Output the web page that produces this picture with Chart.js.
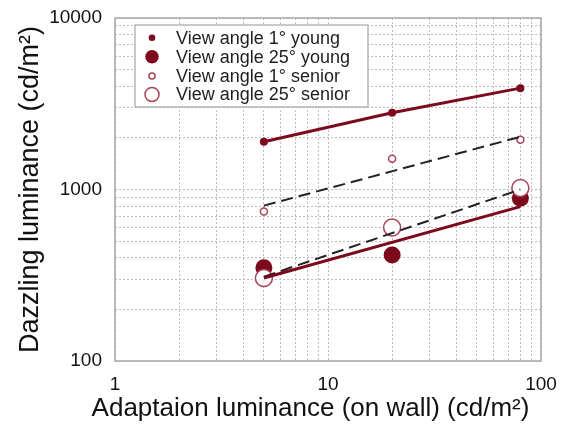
<!DOCTYPE html>
<html>
<head>
<meta charset="utf-8">
<script src="https://cdn.jsdelivr.net/npm/chart.js@4/dist/chart.umd.min.js"></script>
<style>
html,body{margin:0;padding:0;background:#fff;}
#wrap{width:561px;height:425px;}
</style>
</head>
<body>
<div id="wrap"><canvas id="c" width="561" height="425"></canvas></div>
<script>
// ---- data ----
const adaptation = [5, 20, 80];                 // x, cd/m2
const young1 = [1900, 2800, 3900];
const young25 = [350, 415, 890];
const senior1 = [745, 1510, 1950];
const senior25 = [305, 600, 1020];
// fitted lines (end points)
const fitX = [5, 80];
const fitSenior1 = [805, 2030];
const fitYoung25 = [305, 795];
const fitSenior25 = [310, 1000];
const seriesLabels = ['View angle 1° young', 'View angle 25° young', 'View angle 1° senior', 'View angle 25° senior'];
const xTitle = 'Adaptaion luminance (on wall) (cd/m²)';
const yTitle = 'Dazzling luminance (cd/m²)';
const xTickLabels = [1, 10, 100];
const yTickLabels = [100, 1000, 10000];
const xGridValues = [1,2,3,4,5,6,7,8,9,10,20,30,40,50,60,70,80,90,100];
const yGridValues = [100,200,300,400,500,600,700,800,900,1000,2000,3000,4000,5000,6000,7000,8000,9000,10000];

const RED = '#7d0a1c';
const PINK = '#a8405a';
const FONT = '"Liberation Sans", Arial, sans-serif';
const pts = (xs, ys) => xs.map((x, i) => ({x: x, y: ys[i]}));

const legendSizes = [3.3, 6.8, 3, 7];

const legendPlugin = {
  id: 'boxLegend',
  afterDatasetsDraw(chart) {
    const ctx = chart.ctx;
    ctx.save();
    const a = chart.chartArea;
    ctx.strokeStyle = '#a6a6a6';
    ctx.lineWidth = 1.5;
    ctx.strokeRect(a.left, a.top, a.right - a.left, a.bottom - a.top);
    const bx = 135, by = 25, bw = 233, bh = 82;
    ctx.fillStyle = '#fff';
    ctx.fillRect(bx, by, bw, bh);
    ctx.strokeStyle = '#a6a6a6';
    ctx.lineWidth = 1.2;
    ctx.strokeRect(bx, by, bw, bh);
    const rows = [37.7, 56.7, 76, 94.5];
    ctx.font = '18px ' + FONT;
    ctx.textBaseline = 'middle';
    ctx.textAlign = 'left';
    for (let i = 0; i < 4; i++) {
      const ds = chart.data.datasets[i];
      ctx.beginPath();
      ctx.arc(152, rows[i], legendSizes[i], 0, Math.PI * 2);
      ctx.fillStyle = ds.backgroundColor;
      ctx.fill();
      if (i >= 2) {
        ctx.strokeStyle = ds.borderColor;
        ctx.lineWidth = 1.5;
        ctx.stroke();
      }
      ctx.fillStyle = '#1e1e1e';
      ctx.fillText(ds.label, 176, rows[i] + 1);
    }
    // x axis title (wider than the plot area in the original)
    ctx.font = '26px ' + FONT;
    ctx.textAlign = 'center';
    ctx.fillStyle = '#111';
    ctx.fillText(xTitle, 310.5, 409);
    ctx.restore();
  }
};

new Chart(document.getElementById('c'), {
  type: 'scatter',
  data: {
    datasets: [
      {label: seriesLabels[0], data: pts(adaptation, young1), backgroundColor: RED, borderColor: RED, pointRadius: 4, borderWidth: 0, order: 4},
      {label: seriesLabels[1], data: pts(adaptation, young25), backgroundColor: RED, borderColor: RED, pointRadius: 8.5, borderWidth: 0, order: 5},
      {label: seriesLabels[2], data: pts(adaptation, senior1), backgroundColor: '#ffffff', borderColor: PINK, pointRadius: 3.5, borderWidth: 1.5, order: 3},
      {label: seriesLabels[3], data: pts(adaptation, senior25), backgroundColor: '#ffffff', borderColor: PINK, pointRadius: 8.5, borderWidth: 1.5, order: 2},
      {label: 'fit1', data: pts(adaptation, young1), showLine: true, borderColor: RED, borderWidth: 3, pointRadius: 0, order: 1},
      {label: 'fit2', data: pts(fitX, fitSenior1), showLine: true, borderColor: '#222', borderWidth: 2, borderDash: [12, 6], pointRadius: 0, order: 1},
      {label: 'fit3', data: pts(fitX, fitYoung25), showLine: true, borderColor: RED, borderWidth: 3, pointRadius: 0, order: 0},
      {label: 'fit4', data: pts(fitX, fitSenior25), showLine: true, borderColor: '#222', borderWidth: 2, borderDash: [12, 6], pointRadius: 0, order: 1}
    ]
  },
  options: {
    responsive: false,
    animation: false,
    events: [],
    layout: {padding: {left: 0, top: 18, right: 20, bottom: 0}},
    plugins: {legend: {display: false}, tooltip: {enabled: false}},
    scales: {
      x: {
        type: 'logarithmic', min: 1, max: 100,
        afterBuildTicks: s => { s.ticks = xGridValues.map(v => ({value: v})); },
        afterFit: s => { s.height = 64; s.paddingLeft = 0; s.paddingRight = 0; },
        grid: {color: '#bdbdbd', lineWidth: 1, drawTicks: false},
        border: {display: false, dash: [2, 2]},
        ticks: {
          autoSkip: false, maxRotation: 0, padding: 12, color: '#111',
          font: {family: FONT, size: 19},
          callback: v => xTickLabels.includes(v) ? String(v) : ''
        },
        title: {display: false}
      },
      y: {
        type: 'logarithmic', min: 100, max: 10000,
        afterBuildTicks: s => { s.ticks = yGridValues.map(v => ({value: v})); },
        afterFit: s => { s.width = 115; s.paddingTop = 0; s.paddingBottom = 0; },
        grid: {color: '#bdbdbd', lineWidth: 1, drawTicks: false},
        border: {display: false, dash: [2, 2]},
        ticks: {
          autoSkip: false, padding: 13, color: '#111',
          font: {family: FONT, size: 19},
          callback: v => yTickLabels.includes(v) ? String(v) : ''
        },
        title: {display: true, text: yTitle, color: '#111',
          font: {family: FONT, size: 27}, padding: {top: 14, bottom: 0}}
      }
    }
  },
  plugins: [legendPlugin]
});
</script>
</body>
</html>
